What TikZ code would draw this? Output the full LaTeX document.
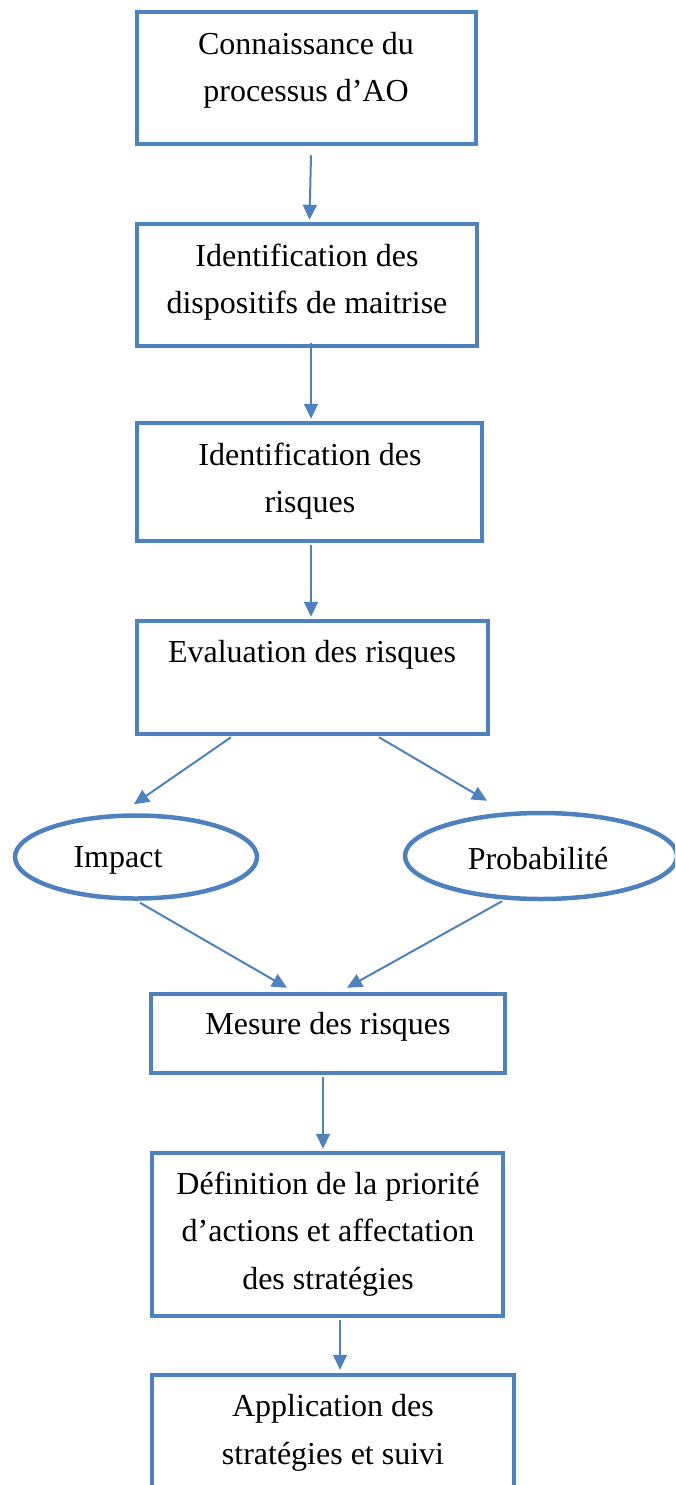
\documentclass[tikz,border=0pt]{standalone}
\usepackage{fontspec}
\setmainfont{Liberation Serif}
\usetikzlibrary{arrows.meta,shapes.geometric,calc}
\definecolor{flowblue}{RGB}{79,129,189}
\tikzset{
  stepbox/.style={draw=flowblue,line width=4.5pt,rectangle,inner sep=0pt},
  oval/.style={draw=flowblue,line width=4.5pt,ellipse,inner sep=0pt},
  lbl/.style={align=center,inner sep=0pt,font=\fontsize{32}{47.5}\selectfont},
  arr/.style={draw=flowblue,line width=2pt,-{Triangle[length=15pt,width=14pt]}}
}
\begin{document}
\begin{tikzpicture}[x=1pt,y=-1pt]
\useasboundingbox (0,0) rectangle (675,1485);
\clip (0,0) rectangle (675,1485);

% process boxes
\node[stepbox,minimum width=339pt,minimum height=132pt] (b1) at (306.5,78) {};
\node[stepbox,minimum width=340pt,minimum height=122pt] (b2) at (307,285) {};
\node[stepbox,minimum width=345pt,minimum height=118pt] (b3) at (309.5,482) {};
\node[stepbox,minimum width=351pt,minimum height=113pt] (b4) at (312.5,677.5) {};
\node[oval,minimum width=242pt,minimum height=83pt] (imp) at (136,857) {};
\node[oval,minimum width=272pt,minimum height=86pt] (prob) at (541,856) {};
\node[stepbox,minimum width=354pt,minimum height=79pt] (b5) at (328,1033.5) {};
\node[stepbox,minimum width=351pt,minimum height=163pt] (b6) at (327.5,1234.5) {};
\node[stepbox,minimum width=362pt,minimum height=125pt] (b7) at (333,1437.5) {};

% labels
\node[lbl] (t1) at (306,70.5) {Connaissance du\\processus d’AO};
\node[lbl] (t2) at (307,282) {Identification des\\dispositifs de maitrise};
\node[lbl] (t3) at (310,481) {Identification des\\risques};
\node[lbl] (t4) at (312,655) {Evaluation des risques};
\node[lbl] (t5) at (118,860) {Impact};
\node[lbl] (t6) at (538,859) {Probabilité};
\node[lbl] (t7) at (328,1027) {Mesure des risques};
\node[lbl] (t8) at (328,1234) {Définition de la priorité\\d’actions et affectation\\des stratégies};
\node[lbl] (t9) at (333,1433) {Application des\\stratégies et suivi};

% connectors
\draw[arr] ($(b1.south)+(4.5,9)$) -- ($(b2.north)+(2.5,-2)$);
\draw[arr] ($(b2.south)+(4,-5)$) -- ($(b3.north)+(1.5,-2)$);
\draw[arr] ($(b3.south)+(1.5,2)$) -- ($(b4.north)+(-1.5,-2)$);
\draw[arr] ($(b4.south)+(-81.5,1)$) -- ($(imp.north)+(-2,-9)$);
\draw[arr] ($(b4.south)+(66.5,1)$) -- ($(prob.north)+(-54,-10)$);
\draw[arr] ($(imp.south)+(4,2)$) -- ($(b5.north)+(-41,-4)$);
\draw[arr] ($(prob.south)+(-39,0)$) -- ($(b5.north)+(19,-4)$);
\draw[arr] ($(b5.south)+(-5,2)$) -- ($(b6.north)+(-4.5,-2)$);
\draw[arr] ($(b6.south)+(12.5,2)$) -- ($(b7.north)+(7,-3)$);
\end{tikzpicture}
\end{document}
